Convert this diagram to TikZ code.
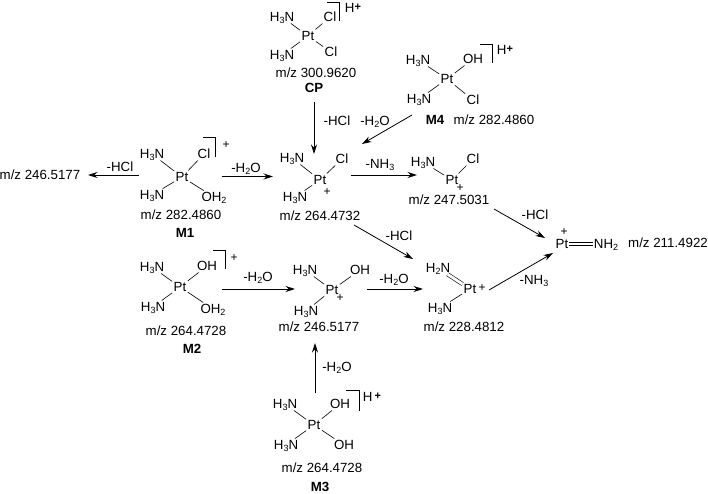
\documentclass[tikz,border=0pt]{standalone}
\usepackage{fontspec}
\setmainfont{Liberation Sans}
\usetikzlibrary{arrows.meta}
\newcommand{\sbs}[1]{\raisebox{-0.3ex}{\fontsize{9}{9}\selectfont #1}}
\newcommand{\HHHN}{H\sbs{3}N}
\newcommand{\HHN}{H\sbs{2}N}
\newcommand{\OHH}{OH\sbs{2}}
\newcommand{\NHH}{NH\sbs{2}}
\newcommand{\wat}{-H\sbs{2}O}
\newcommand{\amm}{-NH\sbs{3}}
\newcommand{\prot}{H\raisebox{0.25ex}{\fontsize{11}{11}\selectfont\bfseries +}}
\tikzset{
  lbl/.style={inner sep=1pt,text height=9.5pt,text depth=0.5pt,font=\fontsize{13.3}{14}\selectfont},
  atom/.style={lbl},
  mz/.style={lbl},
  cmpd/.style={lbl,font=\fontsize{13.3}{14}\selectfont\bfseries},
  chg/.style={lbl,font=\fontsize{12}{14}\selectfont},
  bond/.style={line width=0.6pt,shorten >=0.5pt,shorten <=0.5pt},
  dbl/.style={line width=0.6pt,double,double distance=2.8pt},
  brk/.style={line width=0.8pt},
  rx/.style={line width=0.8pt,-{Stealth[length=9.5pt,width=6pt]}}
}
\begin{document}
\begin{tikzpicture}[x=1pt,y=-1pt]
\useasboundingbox (0,0) rectangle (708,494);
% CP
\node[atom] (cpPt) at (308,36) {Pt};
\node[atom] (cpA) at (282,17) {\HHHN};
\node[atom] (cpB) at (282,55) {\HHHN};
\node[atom] (cpC) at (330,17) {Cl};
\node[atom] (cpD) at (331,52) {Cl};
\node[mz] (cpM) at (316,73) {m/z 300.9620};
\node[cmpd] (cpN) at (314,88) {CP};
\node[lbl] (cpH) at (353,8) {\prot};
\draw[brk] (327,2) -- (339,2) -- (339,21);
\draw[bond] (cpA) -- (cpPt); \draw[bond] (cpB) -- (cpPt); \draw[bond] (cpC) -- (cpPt); \draw[bond] (cpD) -- (cpPt);
% M4
\node[atom] (m4Pt) at (447,79) {Pt};
\node[atom] (m4A) at (418,60) {\HHHN};
\node[atom] (m4B) at (419,99) {\HHHN};
\node[atom] (m4C) at (473,59) {OH};
\node[atom] (m4D) at (473,100) {Cl};
\node[cmpd] (m4N) at (435,120) {M4};
\node[mz] (m4M) at (494,120) {m/z 282.4860};
\node[lbl] (m4H) at (505,50) {\prot};
\draw[brk] (480,44) -- (492,44) -- (492,63);
\draw[bond] (m4A) -- (m4Pt); \draw[bond] (m4B) -- (m4Pt); \draw[bond] (m4C) -- (m4Pt); \draw[bond] (m4D) -- (m4Pt);
% M1
\node[atom] (m1Pt) at (182,177) {Pt};
\node[atom] (m1A) at (152,154) {\HHHN};
\node[atom] (m1B) at (152,195) {\HHHN};
\node[atom] (m1C) at (204,154) {Cl};
\node[atom] (m1D) at (214,197) {\OHH};
\node[mz] (m1M) at (181,215) {m/z 282.4860};
\node[cmpd] (m1N) at (185,233) {M1};
\node[chg] (m1H) at (226,144) {+};
\draw[brk] (203,137) -- (215,137) -- (215,157);
\draw[bond] (m1A) -- (m1Pt); \draw[bond] (m1B) -- (m1Pt); \draw[bond] (m1C) -- (m1Pt); \draw[bond] (m1D) -- (m1Pt);
\node[mz] (pL) at (40,175) {m/z 246.5177};
% centre upper
\node[atom] (cuPt) at (320,180) {Pt};
\node[atom] (cuA) at (292,158) {\HHHN};
\node[atom] (cuB) at (295,197) {\HHHN};
\node[atom] (cuC) at (342,159) {Cl};
\node[chg] (cuH) at (327,191) {+};
\node[mz] (cuM) at (320,216) {m/z 264.4732};
\draw[bond] (cuA) -- (cuPt); \draw[bond] (cuB) -- (cuPt); \draw[bond] (cuC) -- (cuPt);
% right upper
\node[atom] (ruPt) at (452,180) {Pt};
\node[atom] (ruA) at (423,162) {\HHHN};
\node[atom] (ruC) at (473,159) {Cl};
\node[chg] (ruH) at (460,187) {+};
\node[mz] (ruM) at (449,200) {m/z 247.5031};
\draw[bond] (ruA) -- (ruPt); \draw[bond] (ruC) -- (ruPt);
% final
\node[atom] (fPt) at (562,244) {Pt};
\node[chg] (fH) at (564,231) {+};
\node[atom] (fN) at (606,244) {\NHH};
\node[mz] (fM) at (668,243) {m/z 211.4922};
\draw[dbl] (fPt) -- (fN);
% M2
\node[atom] (m2Pt) at (180,287) {Pt};
\node[atom] (m2A) at (152,267) {\HHHN};
\node[atom] (m2B) at (153,307) {\HHHN};
\node[atom] (m2C) at (207,266) {OH};
\node[atom] (m2D) at (213,309) {\OHH};
\node[mz] (m2M) at (186,331) {m/z 264.4728};
\node[cmpd] (m2N) at (192,349) {M2};
\node[chg] (m2H) at (234,257) {+};
\draw[brk] (213,250) -- (225,250) -- (225,269);
\draw[bond] (m2A) -- (m2Pt); \draw[bond] (m2B) -- (m2Pt); \draw[bond] (m2C) -- (m2Pt); \draw[bond] (m2D) -- (m2Pt);
% centre lower
\node[atom] (clPt) at (332,290) {Pt};
\node[atom] (clA) at (305,270) {\HHHN};
\node[atom] (clB) at (306,311) {\HHHN};
\node[atom] (clC) at (360,270) {OH};
\node[chg] (clH) at (340,297) {+};
\node[mz] (clM) at (319,327) {m/z 246.5177};
\draw[bond] (clA) -- (clPt); \draw[bond] (clB) -- (clPt); \draw[bond] (clC) -- (clPt);
% right lower
\node[atom] (rlPt) at (470,289) {Pt};
\node[chg] (rlH) at (482,287) {+};
\node[atom] (rlA) at (438,268) {\HHN};
\node[atom] (rlB) at (440,308) {\HHHN};
\node[mz] (rlM) at (464,327) {m/z 228.4812};
\draw[dbl] (rlA) -- (rlPt); \draw[bond] (rlB) -- (rlPt);
% M3
\node[atom] (m3Pt) at (314,425) {Pt};
\node[atom] (m3A) at (285,404) {\HHHN};
\node[atom] (m3B) at (286,445) {\HHHN};
\node[atom] (m3C) at (340,404) {OH};
\node[atom] (m3D) at (344,445) {OH};
\node[mz] (m3M) at (322,468) {m/z 264.4728};
\node[cmpd] (m3N) at (320,487) {M3};
\node[lbl] (m3H) at (372,397) {H\,\raisebox{0.25ex}{\fontsize{11}{11}\selectfont\bfseries +}};
\draw[brk] (346,390) -- (359,390) -- (359,411);
\draw[bond] (m3A) -- (m3Pt); \draw[bond] (m3B) -- (m3Pt); \draw[bond] (m3C) -- (m3Pt); \draw[bond] (m3D) -- (m3Pt);
% arrow ends
\coordinate (a1s) at (314,102); \coordinate (a1e) at (314,154);
\coordinate (a2s) at (412,115); \coordinate (a2e) at (362,144);
\coordinate (a3s) at (139,175); \coordinate (a3e) at (88,175);
\coordinate (a4s) at (222,176.5); \coordinate (a4e) at (273,176.5);
\coordinate (a5s) at (351,175); \coordinate (a5e) at (417,175);
\coordinate (a6s) at (494,209); \coordinate (a6e) at (545,238);
\coordinate (a7s) at (354,225); \coordinate (a7e) at (413,259);
\coordinate (a8s) at (489,290); \coordinate (a8e) at (553,253);
\coordinate (a9s) at (367,289); \coordinate (a9e) at (423,289);
\coordinate (a10s) at (222,289); \coordinate (a10e) at (295,289);
\coordinate (a11s) at (315,393); \coordinate (a11e) at (315,343);
\draw[rx] (a1s) -- (a1e); \draw[rx] (a2s) -- (a2e); \draw[rx] (a3s) -- (a3e);
\draw[rx] (a4s) -- (a4e); \draw[rx] (a5s) -- (a5e); \draw[rx] (a6s) -- (a6e);
\draw[rx] (a7s) -- (a7e); \draw[rx] (a8s) -- (a8e); \draw[rx] (a9s) -- (a9e);
\draw[rx] (a10s) -- (a10e); \draw[rx] (a11s) -- (a11e);
% arrow labels
\node[lbl] (l1) at (337,121) {-HCl};
\node[lbl] (l2) at (375,121) {\wat};
\node[lbl] (l3) at (120,167) {-HCl};
\node[lbl] (l4) at (246,168) {\wat};
\node[lbl] (l5) at (380,164) {\amm};
\node[lbl] (l6) at (535,215) {-HCl};
\node[lbl] (l7) at (399,236) {-HCl};
\node[lbl] (l8) at (534,280) {\amm};
\node[lbl] (l9) at (394,279) {\wat};
\node[lbl] (l10) at (258,277) {\wat};
\node[lbl] (l11) at (337,367) {\wat};
\end{tikzpicture}
\end{document}
